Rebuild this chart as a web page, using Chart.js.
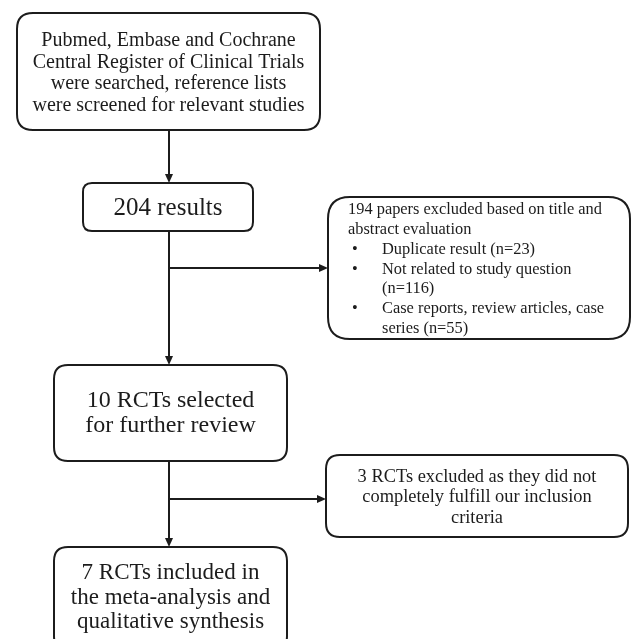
<!DOCTYPE html>
<html>
  <head>
    <title>Study selection flow</title>
    <script src="https://cdn.jsdelivr.net/npm/chart.js"></script>
    <style>
      body {
        margin: 0;
        background: #ffffff;
      }
      #wrap {
        width: 631px;
        height: 639px;
      }
    </style>
  </head>
  <body>
    <div id="wrap">
      <canvas id="flowChart" width="631" height="639"></canvas>
    </div>

    <script>
      // Box texts (one array per box)
      const searchText = [
        "Pubmed, Embase and Cochrane",
        "Central Register of Clinical Trials",
        "were searched, reference lists",
        "were screened for relevant studies",
      ];
      const resultsText = ["204 results"];
      const excludedHead = ["194 papers excluded based on title and", "abstract evaluation"];
      const excludedItems = [
        ["Duplicate result (n=23)"],
        ["Not related to study question", "(n=116)"],
        ["Case reports, review articles, case", "series (n=55)"],
      ];
      const selectedText = ["10 RCTs selected", "for further review"];
      const rejectedText = ["3 RCTs excluded as they did not", "completely fulfill our inclusion", "criteria"];
      const includedText = ["7 RCTs included in", "the meta-analysis and", "qualitative synthesis"];

      // layout, in axis units (axes run 0..631 and 0..639)
      const boxes = [
        { x0: 17, y0: 13, x1: 320, y1: 130, r: 16, lines: searchText, size: 20, lh: 21.6, y: 41 },
        { x0: 83, y0: 183, x1: 253, y1: 231, r: 9, lines: resultsText, size: 25, lh: 25, y: 208 },
        { x0: 54, y0: 365, x1: 287, y1: 461, r: 14, lines: selectedText, size: 24, lh: 25, y: 401 },
        { x0: 326, y0: 455, x1: 628, y1: 537, r: 14, lines: rejectedText, size: 18.4, lh: 20.5, y: 477 },
        { x0: 54, y0: 547, x1: 287, y1: 650, r: 14, lines: includedText, size: 23, lh: 24.5, y: 573 },
      ];
      const listBox = { x0: 328, y0: 197, x1: 630, y1: 339, r: 22, size: 16.4, lh: 19.8, y: 210, textX: 348, bulletX: 352, itemX: 382 };

      const arrows = [
        { from: [169, 130], to: [169, 183] },
        { from: [169, 231], to: [169, 365] },
        { from: [169, 268], to: [328, 268] },
        { from: [169, 461], to: [169, 547] },
        { from: [169, 499], to: [326, 499] },
      ];

      const ink = "#1c1c1c";
      const fontFamily = '"Liberation Serif", "Times New Roman", serif';

      function roundRect(ctx, x0, y0, x1, y1, r) {
        ctx.beginPath();
        ctx.moveTo(x0 + r, y0);
        ctx.lineTo(x1 - r, y0);
        ctx.quadraticCurveTo(x1, y0, x1, y0 + r);
        ctx.lineTo(x1, y1 - r);
        ctx.quadraticCurveTo(x1, y1, x1 - r, y1);
        ctx.lineTo(x0 + r, y1);
        ctx.quadraticCurveTo(x0, y1, x0, y1 - r);
        ctx.lineTo(x0, y0 + r);
        ctx.quadraticCurveTo(x0, y0, x0 + r, y0);
        ctx.closePath();
        ctx.stroke();
      }

      const flowPlugin = {
        id: "flow",
        afterDraw(chart) {
          const ctx = chart.ctx;
          const sx = chart.scales.x;
          const sy = chart.scales.y;
          const px = (v) => sx.getPixelForValue(v);
          const py = (v) => sy.getPixelForValue(v);
          ctx.save();
          ctx.strokeStyle = ink;
          ctx.fillStyle = ink;
          ctx.lineWidth = 2;

          // connectors
          arrows.forEach((a) => {
            const x0 = px(a.from[0]), y0 = py(a.from[1]);
            const x1 = px(a.to[0]), y1 = py(a.to[1]);
            const ang = Math.atan2(y1 - y0, x1 - x0);
            const len = 9, half = 4;
            const bx = x1 - len * Math.cos(ang), by = y1 - len * Math.sin(ang);
            ctx.beginPath();
            ctx.moveTo(x0, y0);
            ctx.lineTo(bx, by);
            ctx.stroke();
            ctx.beginPath();
            ctx.moveTo(x1, y1);
            ctx.lineTo(bx - half * Math.sin(ang), by + half * Math.cos(ang));
            ctx.lineTo(bx + half * Math.sin(ang), by - half * Math.cos(ang));
            ctx.closePath();
            ctx.fill();
          });

          // centred boxes
          ctx.textAlign = "center";
          ctx.textBaseline = "middle";
          boxes.forEach((b) => {
            roundRect(ctx, px(b.x0), py(b.y0), px(b.x1), py(b.y1), b.r);
            ctx.font = b.size + "px " + fontFamily;
            const cx = px((b.x0 + b.x1) / 2);
            b.lines.forEach((t, i) => ctx.fillText(t, cx, py(b.y + i * b.lh)));
          });

          // bullet list box
          const L = listBox;
          roundRect(ctx, px(L.x0), py(L.y0), px(L.x1), py(L.y1), L.r);
          ctx.font = L.size + "px " + fontFamily;
          ctx.textAlign = "left";
          let row = 0;
          excludedHead.forEach((t) => {
            ctx.fillText(t, px(L.textX), py(L.y + row * L.lh));
            row++;
          });
          excludedItems.forEach((item) => {
            ctx.fillText("\u2022", px(L.bulletX), py(L.y + row * L.lh));
            item.forEach((t) => {
              ctx.fillText(t, px(L.itemX), py(L.y + row * L.lh));
              row++;
            });
          });
          ctx.restore();
        },
      };

      new Chart(document.getElementById("flowChart"), {
        type: "scatter",
        data: { datasets: [{ data: [] }] },
        options: {
          responsive: false,
          animation: false,
          layout: { padding: 0 },
          plugins: { legend: { display: false }, tooltip: { enabled: false } },
          scales: {
            x: { type: "linear", min: 0, max: 631, display: false },
            y: { type: "linear", min: 0, max: 639, reverse: true, display: false },
          },
        },
        plugins: [flowPlugin],
      });
    </script>
  </body>
</html>
